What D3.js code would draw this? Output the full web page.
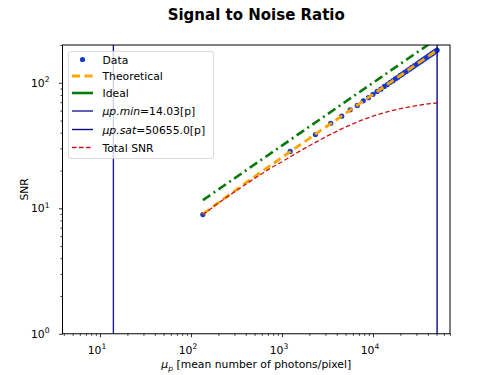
<!DOCTYPE html>
<html>
<head>
<meta charset="utf-8">
<script src="https://cdn.jsdelivr.net/npm/d3@7"></script>
<style>
  body { margin: 0; background: #fff; }
  svg { display: block; font-family: "DejaVu Sans", sans-serif; }
</style>
</head>
<body>
<svg id="chart" width="500" height="375"></svg>
<script>
// Signal to Noise Ratio, log-log

//// DATA /////////////////////////////////////////////////////////////////////

var dataMu = [135, 1230, 2330, 3430, 4530, 5620, 6720, 7820, 8920, 10000,
	11100, 12200, 13300, 14400, 15500, 16600, 17700, 18800, 19900, 21000,
	22100, 23200, 24300, 25400, 26500, 27600, 28600, 29700, 30800, 31900,
	33000, 34100, 35200, 36300, 37400, 38500, 39600, 40700, 41800, 42900,
	44000, 45100, 46200, 47300, 48400, 49500, 50655];
var dataSnr = [8.9, 28.4, 38.7, 47.6, 54.2, 60.9, 66.0, 71.8, 76.1, 80.9,
	85.4, 89.0, 93.5, 96.8, 100.9, 104.0, 107.9, 110.6, 114.4, 117.0,
	120.5, 123.0, 126.4, 128.7, 131.9, 134.1, 137.1, 139.2, 142.2, 144.2,
	147.2, 149.0, 152.0, 153.9, 156.7, 158.5, 161.2, 162.9, 165.6, 167.3,
	169.9, 171.5, 174.0, 175.7, 178.2, 179.7, 182.0];

var theoryMu = [135, 200, 300, 500, 750, 1000, 1500, 2000, 3000, 5000,
	7500, 10000, 15000, 20000, 30000, 40000, 50655];
var theorySnr = [9.0, 11.1, 13.7, 17.9, 22.0, 25.4, 31.2, 36.1, 44.2, 57.1,
	70.0, 80.8, 99.0, 114.3, 140.1, 161.7, 182.0];

var idealMu = [135, 1000, 10000, 50655];
var idealSnr = [11.6, 31.6, 100, 225];

var totalMu = theoryMu;
var totalSnr = [8.9, 11.0, 13.5, 17.3, 20.9, 23.5, 28.0, 31.5, 37.0, 44.5,
	50.3, 54.2, 59.2, 62.3, 65.8, 67.8, 69.0];

var muMin = 14.03;
var muSat = 50655.0;

var xMajor = [10, 100, 1000, 10000];
var xMajorExp = ["1", "2", "3", "4"];
var yMajor = [1, 10, 100];
var yMajorExp = ["0", "1", "2"];

var legendLabels = ["Data", "Theoretical", "Ideal", "min", "sat", "Total SNR"];


//// SETTINGS /////////////////////////////////////////////////////////////////

var W = 500, H = 375;
var pLeft = 62.5, pRight = 450, pTop = 45, pBottom = 333.75;
var fs = "10.8px", fsSup = "7.6px";

var colData = "#1838c8";
var colTheory = "#ffa500";
var colIdeal = "#087a08";
var colMin = "#1c1ca0";
var colSat = "#0a0a80";
var colTotal = "#c81414";

var svg = d3.select("#chart");

var x = d3.scaleLog().domain([3.87, 70200]).range([pLeft, pRight]);
var y = d3.scaleLog().domain([1, 200]).range([pBottom, pTop]);

svg.append("defs").append("clipPath").attr("id", "plotclip")
	.append("rect")
		.attr("x", pLeft).attr("y", pTop)
		.attr("width", pRight - pLeft).attr("height", pBottom - pTop);

var plot = svg.append("g").attr("clip-path", "url(#plotclip)");

var line = d3.line()
	.x(function(d) { return x(d[0]); })
	.y(function(d) { return y(d[1]); });

function pairs(a, b) { return a.map(function(v, i) { return [v, b[i]]; }); }


//// MARKS ////////////////////////////////////////////////////////////////////

plot.selectAll("circle.data")
	.data(pairs(dataMu, dataSnr))
	.enter().append("circle")
		.attr("class", "data")
		.attr("cx", function(d) { return x(d[0]); })
		.attr("cy", function(d) { return y(d[1]); })
		.attr("r", 2.6)
		.attr("fill", colData);

plot.append("path")
	.datum(pairs(theoryMu, theorySnr))
	.attr("d", line)
	.attr("fill", "none")
	.attr("stroke", colTheory)
	.attr("stroke-width", 2.8)
	.attr("stroke-dasharray", "8,4.5");

plot.append("path")
	.datum(pairs(idealMu, idealSnr))
	.attr("d", line)
	.attr("fill", "none")
	.attr("stroke", colIdeal)
	.attr("stroke-width", 2.6)
	.attr("stroke-dasharray", "9,4,2,4");

plot.append("line")
	.attr("x1", x(muMin)).attr("x2", x(muMin))
	.attr("y1", pTop).attr("y2", pBottom)
	.attr("stroke", colMin).attr("stroke-width", 1.4);

plot.append("line")
	.attr("x1", x(muSat)).attr("x2", x(muSat))
	.attr("y1", pTop).attr("y2", pBottom)
	.attr("stroke", colSat).attr("stroke-width", 1.4);

plot.append("path")
	.datum(pairs(totalMu, totalSnr))
	.attr("d", line)
	.attr("fill", "none")
	.attr("stroke", colTotal)
	.attr("stroke-width", 1.3)
	.attr("stroke-dasharray", "4.5,2.5");


//// AXES /////////////////////////////////////////////////////////////////////

function isMajor(v) {
	var l = Math.log10(v);
	return Math.abs(l - Math.round(l)) < 1e-9;
}

var xMinor = x.ticks().filter(function(v) { return !isMajor(v); });
var yMinor = y.ticks().filter(function(v) { return !isMajor(v); });

var xAxisMajor = svg.append("g").attr("transform", "translate(0," + pBottom + ")")
	.call(d3.axisBottom(x).tickValues(xMajor).tickSize(3.5).tickFormat(""));
var xAxisMinor = svg.append("g").attr("transform", "translate(0," + pBottom + ")")
	.call(d3.axisBottom(x).tickValues(xMinor).tickSize(2).tickFormat(""));
var yAxisMajor = svg.append("g").attr("transform", "translate(" + pLeft + ",0)")
	.call(d3.axisLeft(y).tickValues(yMajor).tickSize(3.5).tickFormat(""));
var yAxisMinor = svg.append("g").attr("transform", "translate(" + pLeft + ",0)")
	.call(d3.axisLeft(y).tickValues(yMinor).tickSize(2).tickFormat(""));

[xAxisMajor, xAxisMinor, yAxisMajor, yAxisMinor].forEach(function(g) {
	g.select(".domain").remove();
	g.selectAll("line").attr("stroke", "#000").attr("stroke-width", 0.8);
});

// tick labels as 10^n
xMajor.forEach(function(v, i) {
	var t = svg.append("text")
		.attr("x", x(v) - 3).attr("y", pBottom + 20)
		.attr("text-anchor", "middle")
		.style("font-size", fs);
	t.append("tspan").text("10");
	t.append("tspan").attr("dy", -4.5).style("font-size", fsSup).text(xMajorExp[i]);
});
yMajor.forEach(function(v, i) {
	var t = svg.append("text")
		.attr("x", pLeft - 13).attr("y", y(v) + 4)
		.attr("text-anchor", "end")
		.style("font-size", fs);
	t.append("tspan").text("10");
	t.append("tspan").attr("dy", -4.5).style("font-size", fsSup).text(yMajorExp[i]);
});

// frame
svg.append("rect")
	.attr("x", pLeft).attr("y", pTop)
	.attr("width", pRight - pLeft).attr("height", pBottom - pTop)
	.attr("fill", "none").attr("stroke", "#000").attr("stroke-width", 1);

// axis titles
var xl = svg.append("text")
	.attr("x", (pLeft + pRight) / 2).attr("y", 368)
	.attr("text-anchor", "middle")
	.style("font-size", fs);
xl.append("tspan").style("font-style", "italic").text("\u03bc");
xl.append("tspan").attr("dy", 2.5).style("font-style", "italic").style("font-size", fsSup).text("p");
xl.append("tspan").attr("dy", -2.5).text(" [mean number of photons/pixel]");

svg.append("text")
	.attr("transform", "translate(28," + ((pTop + pBottom) / 2) + ") rotate(-90)")
	.attr("text-anchor", "middle")
	.style("font-size", fs)
	.text("SNR");

svg.append("text")
	.attr("x", (pLeft + pRight) / 2).attr("y", 20)
	.attr("text-anchor", "middle")
	.style("font-size", "15px")
	.style("font-weight", "bold")
	.text("Signal to Noise Ratio");


//// LEGEND ///////////////////////////////////////////////////////////////////

var lg = svg.append("g");
lg.append("rect")
	.attr("x", 68.5).attr("y", 51.5)
	.attr("width", 145).attr("height", 107)
	.attr("rx", 2.5)
	.attr("fill", "#fff").attr("fill-opacity", 0.8)
	.attr("stroke", "#d0d0d0").attr("stroke-width", 0.8);

var rowY = [59.5, 76, 93, 111, 129.5, 147.5];
var hx0 = 72, hx1 = 93, tx = 102.5;

lg.append("circle").attr("cx", (hx0 + hx1) / 2).attr("cy", rowY[0]).attr("r", 2.6).attr("fill", colData);
lg.append("line").attr("x1", hx0).attr("x2", hx1).attr("y1", rowY[1]).attr("y2", rowY[1])
	.attr("stroke", colTheory).attr("stroke-width", 2.8).attr("stroke-dasharray", "8,4.5");
lg.append("line").attr("x1", hx0).attr("x2", hx1).attr("y1", rowY[2]).attr("y2", rowY[2])
	.attr("stroke", colIdeal).attr("stroke-width", 2.6);
lg.append("line").attr("x1", hx0).attr("x2", hx1).attr("y1", rowY[3]).attr("y2", rowY[3])
	.attr("stroke", colMin).attr("stroke-width", 1.4);
lg.append("line").attr("x1", hx0).attr("x2", hx1).attr("y1", rowY[4]).attr("y2", rowY[4])
	.attr("stroke", colSat).attr("stroke-width", 1.4);
lg.append("line").attr("x1", hx0).attr("x2", hx1).attr("y1", rowY[5]).attr("y2", rowY[5])
	.attr("stroke", colTotal).attr("stroke-width", 1.3).attr("stroke-dasharray", "4.5,2.5");

function legendText(i) {
	return lg.append("text").attr("x", tx).attr("y", rowY[i] + 4).style("font-size", fs);
}
legendText(0).text(legendLabels[0]);
legendText(1).text(legendLabels[1]);
legendText(2).text(legendLabels[2]);
var t3 = legendText(3);
t3.append("tspan").style("font-style", "italic").text("\u03bcp." + legendLabels[3]);
t3.append("tspan").text("=" + muMin.toFixed(2) + "[p]");
var t4 = legendText(4);
t4.append("tspan").style("font-style", "italic").text("\u03bcp." + legendLabels[4]);
t4.append("tspan").text("=" + muSat.toFixed(1) + "[p]");
legendText(5).text(legendLabels[5]);
</script>
</body>
</html>
